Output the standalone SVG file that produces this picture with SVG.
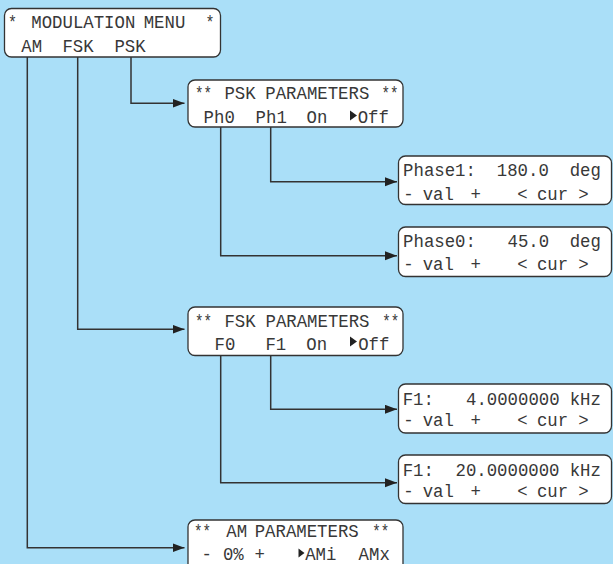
<svg xmlns="http://www.w3.org/2000/svg" width="613" height="564" viewBox="0 0 613 564">
<style>
.bg{fill:#aadff8}
.box{fill:#ffffff;stroke:#333333;stroke-width:1.3}
.t{font-family:"Liberation Mono","Courier New",monospace;font-size:19px;fill:#383838}
.s{font-family:"Liberation Mono","Courier New",monospace;font-size:19px;fill:#383838}
.ln{fill:none;stroke:#333333;stroke-width:1.5}
.cur{fill:#222222}
</style>
<defs>
<marker id="ah" markerUnits="userSpaceOnUse" markerWidth="12" markerHeight="10" refX="12" refY="4.5" orient="auto">
<path d="M0,0 L12,4.5 L0,9 z" fill="#222222"/>
</marker>
</defs>
<rect class="bg" x="0" y="0" width="613" height="564"/>

<g id="connectors">
<path class="ln" marker-end="url(#ah)" d="M27.3,57 V547.7 H184.5"/>
<path class="ln" marker-end="url(#ah)" d="M77.7,57 V329.3 H184.5"/>
<path class="ln" marker-end="url(#ah)" d="M131,57 V103.3 H184.5"/>
<path class="ln" marker-end="url(#ah)" d="M270.7,127 V181.7 H397"/>
<path class="ln" marker-end="url(#ah)" d="M220.7,127 V255.7 H397"/>
<path class="ln" marker-end="url(#ah)" d="M270.7,355.5 V409.3 H397"/>
<path class="ln" marker-end="url(#ah)" d="M220.7,355.5 V482.7 H397"/>
</g>

<g id="menu">
<rect class="box" x="4.5" y="8.5" width="216" height="48.5" rx="7"/>
<text class="s" x="8" y="28" textLength="9" lengthAdjust="spacingAndGlyphs">*</text>
<text class="t" x="31.3" y="28" textLength="104" lengthAdjust="spacingAndGlyphs">MODULATION</text>
<text class="t" x="143.7" y="28" textLength="41.6" lengthAdjust="spacingAndGlyphs">MENU</text>
<text class="s" x="205.5" y="28" textLength="9" lengthAdjust="spacingAndGlyphs">*</text>
<text class="t" x="21.3" y="51.5" textLength="20.8" lengthAdjust="spacingAndGlyphs">AM</text>
<text class="t" x="62.4" y="51.5" textLength="31.2" lengthAdjust="spacingAndGlyphs">FSK</text>
<text class="t" x="114.4" y="51.5" textLength="31.2" lengthAdjust="spacingAndGlyphs">PSK</text>
</g>

<g id="psk-params">
<rect class="box" x="188" y="80" width="215" height="47" rx="7"/>
<text class="s" x="195" y="98.5" textLength="17" lengthAdjust="spacingAndGlyphs">**</text>
<text class="t" x="224.4" y="98.5" textLength="31.2" lengthAdjust="spacingAndGlyphs">PSK</text>
<text class="t" x="265.3" y="98.5" textLength="104" lengthAdjust="spacingAndGlyphs">PARAMETERS</text>
<text class="s" x="381.5" y="98.5" textLength="17" lengthAdjust="spacingAndGlyphs">**</text>
<text class="t" x="203.6" y="122.5" textLength="31.2" lengthAdjust="spacingAndGlyphs">Ph0</text>
<text class="t" x="255.6" y="122.5" textLength="31.2" lengthAdjust="spacingAndGlyphs">Ph1</text>
<text class="t" x="306.6" y="122.5" textLength="20.8" lengthAdjust="spacingAndGlyphs">On</text>
<polygon class="cur" points="350,110.5 357,115.5 350,120.5"/>
<text class="t" x="357.7" y="122.5" textLength="31.2" lengthAdjust="spacingAndGlyphs">Off</text>
</g>

<g id="phase1">
<rect class="box" x="398.5" y="156" width="213" height="48.5" rx="7"/>
<text class="t" x="403.1" y="176" textLength="72.8" lengthAdjust="spacingAndGlyphs">Phase1:</text>
<text class="t" x="496.8" y="176" textLength="52" lengthAdjust="spacingAndGlyphs">180.0</text>
<text class="t" x="569.7" y="176" textLength="31.2" lengthAdjust="spacingAndGlyphs">deg</text>
<text class="t" x="403.3" y="199.5" textLength="10.4" lengthAdjust="spacingAndGlyphs">-</text>
<text class="t" x="422.7" y="199.5" textLength="31.2" lengthAdjust="spacingAndGlyphs">val</text>
<text class="t" x="470.6" y="199.5" textLength="10.4" lengthAdjust="spacingAndGlyphs">+</text>
<text class="t" x="517.3" y="199.5" textLength="10.4" lengthAdjust="spacingAndGlyphs">&lt;</text>
<text class="t" x="536.9" y="199.5" textLength="31.2" lengthAdjust="spacingAndGlyphs">cur</text>
<text class="t" x="578.3" y="199.5" textLength="10.4" lengthAdjust="spacingAndGlyphs">&gt;</text>
</g>

<g id="phase0">
<rect class="box" x="398.5" y="227" width="213" height="49.5" rx="7"/>
<text class="t" x="403.1" y="247" textLength="72.8" lengthAdjust="spacingAndGlyphs">Phase0:</text>
<text class="t" x="507.5" y="247" textLength="41.6" lengthAdjust="spacingAndGlyphs">45.0</text>
<text class="t" x="569.7" y="247" textLength="31.2" lengthAdjust="spacingAndGlyphs">deg</text>
<text class="t" x="403.3" y="270" textLength="10.4" lengthAdjust="spacingAndGlyphs">-</text>
<text class="t" x="422.7" y="270" textLength="31.2" lengthAdjust="spacingAndGlyphs">val</text>
<text class="t" x="470.6" y="270" textLength="10.4" lengthAdjust="spacingAndGlyphs">+</text>
<text class="t" x="517.3" y="270" textLength="10.4" lengthAdjust="spacingAndGlyphs">&lt;</text>
<text class="t" x="536.9" y="270" textLength="31.2" lengthAdjust="spacingAndGlyphs">cur</text>
<text class="t" x="578.3" y="270" textLength="10.4" lengthAdjust="spacingAndGlyphs">&gt;</text>
</g>

<g id="fsk-params">
<rect class="box" x="188" y="307" width="215" height="48.5" rx="7"/>
<text class="s" x="195" y="327" textLength="17" lengthAdjust="spacingAndGlyphs">**</text>
<text class="t" x="224.4" y="327" textLength="31.2" lengthAdjust="spacingAndGlyphs">FSK</text>
<text class="t" x="265.5" y="327" textLength="104" lengthAdjust="spacingAndGlyphs">PARAMETERS</text>
<text class="s" x="382.3" y="327" textLength="17" lengthAdjust="spacingAndGlyphs">**</text>
<text class="t" x="214.6" y="349.5" textLength="20.8" lengthAdjust="spacingAndGlyphs">F0</text>
<text class="t" x="265.4" y="349.5" textLength="20.8" lengthAdjust="spacingAndGlyphs">F1</text>
<text class="t" x="306.3" y="349.5" textLength="20.8" lengthAdjust="spacingAndGlyphs">On</text>
<polygon class="cur" points="350,336.5 357,341.5 350,346.5"/>
<text class="t" x="358.2" y="349.5" textLength="31.2" lengthAdjust="spacingAndGlyphs">Off</text>
</g>

<g id="f1-4khz">
<rect class="box" x="398.5" y="384" width="213" height="49" rx="7"/>
<text class="t" x="402.7" y="404.5" textLength="31.2" lengthAdjust="spacingAndGlyphs">F1:</text>
<text class="t" x="466" y="404.5" textLength="93.6" lengthAdjust="spacingAndGlyphs">4.0000000</text>
<text class="t" x="569.7" y="404.5" textLength="31.2" lengthAdjust="spacingAndGlyphs">kHz</text>
<text class="t" x="403.3" y="425.5" textLength="10.4" lengthAdjust="spacingAndGlyphs">-</text>
<text class="t" x="422.7" y="425.5" textLength="31.2" lengthAdjust="spacingAndGlyphs">val</text>
<text class="t" x="470.6" y="425.5" textLength="10.4" lengthAdjust="spacingAndGlyphs">+</text>
<text class="t" x="517.3" y="425.5" textLength="10.4" lengthAdjust="spacingAndGlyphs">&lt;</text>
<text class="t" x="536.9" y="425.5" textLength="31.2" lengthAdjust="spacingAndGlyphs">cur</text>
<text class="t" x="578.3" y="425.5" textLength="10.4" lengthAdjust="spacingAndGlyphs">&gt;</text>
</g>

<g id="f1-20khz">
<rect class="box" x="398.5" y="455" width="213" height="48.5" rx="7"/>
<text class="t" x="402.7" y="475.5" textLength="31.2" lengthAdjust="spacingAndGlyphs">F1:</text>
<text class="t" x="455.5" y="475.5" textLength="104" lengthAdjust="spacingAndGlyphs">20.0000000</text>
<text class="t" x="569.7" y="475.5" textLength="31.2" lengthAdjust="spacingAndGlyphs">kHz</text>
<text class="t" x="403.3" y="497" textLength="10.4" lengthAdjust="spacingAndGlyphs">-</text>
<text class="t" x="422.7" y="497" textLength="31.2" lengthAdjust="spacingAndGlyphs">val</text>
<text class="t" x="470.6" y="497" textLength="10.4" lengthAdjust="spacingAndGlyphs">+</text>
<text class="t" x="517.3" y="497" textLength="10.4" lengthAdjust="spacingAndGlyphs">&lt;</text>
<text class="t" x="536.9" y="497" textLength="31.2" lengthAdjust="spacingAndGlyphs">cur</text>
<text class="t" x="578.3" y="497" textLength="10.4" lengthAdjust="spacingAndGlyphs">&gt;</text>
</g>

<g id="am-params">
<rect class="box" x="188" y="520" width="215" height="55" rx="7"/>
<text class="s" x="194" y="537" textLength="17" lengthAdjust="spacingAndGlyphs">**</text>
<text class="t" x="226.3" y="537" textLength="20.8" lengthAdjust="spacingAndGlyphs">AM</text>
<text class="t" x="254.7" y="537" textLength="104" lengthAdjust="spacingAndGlyphs">PARAMETERS</text>
<text class="s" x="372.3" y="537" textLength="17" lengthAdjust="spacingAndGlyphs">**</text>
<text class="t" x="201.5" y="559.5" textLength="10.4" lengthAdjust="spacingAndGlyphs">-</text>
<text class="t" x="222.9" y="559.5" textLength="20.8" lengthAdjust="spacingAndGlyphs">0%</text>
<text class="t" x="254.5" y="559.5" textLength="10.4" lengthAdjust="spacingAndGlyphs">+</text>
<polygon class="cur" points="298.5,548.5 304.5,553 298.5,557.5"/>
<text class="t" x="305.2" y="559.5" textLength="31.2" lengthAdjust="spacingAndGlyphs">AMi</text>
<text class="t" x="358.6" y="559.5" textLength="31.2" lengthAdjust="spacingAndGlyphs">AMx</text>
</g>
</svg>
